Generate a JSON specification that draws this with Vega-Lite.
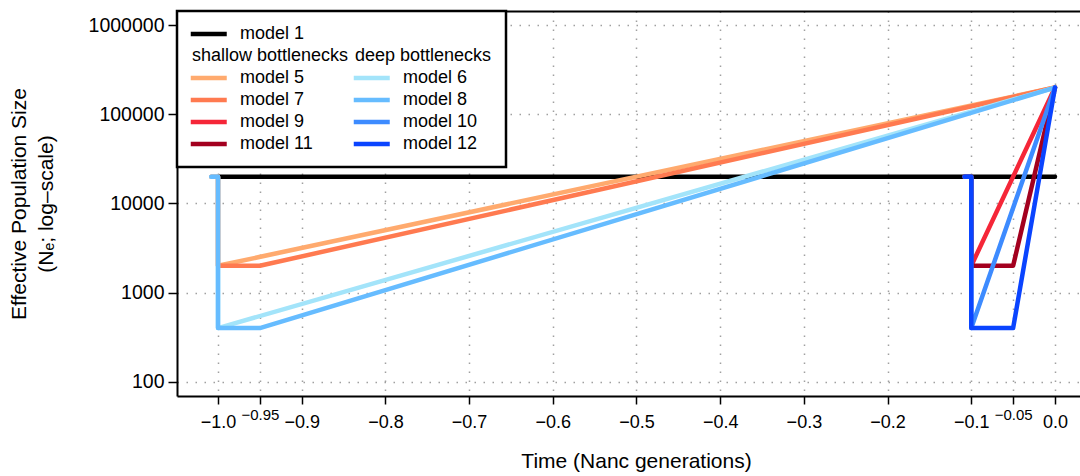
{
  "$schema": "https://vega.github.io/schema/vega-lite/v6.json",
  "width": 903,
  "height": 385,
  "autosize": {"type": "none"},
  "padding": {"left": 177, "top": 11, "right": 0, "bottom": 80},
  "config": {
    "view": {"stroke": null},
    "font": "Liberation Sans",
    "background": "white"
  },
  "data": {
    "values": [
      {"model": "model 1", "i": 1, "t": -1.0, "ne": 20000},
      {"model": "model 1", "i": 2, "t": 0.0, "ne": 20000},

      {"model": "model 5", "i": 1, "t": -1.008, "ne": 20000},
      {"model": "model 5", "i": 2, "t": -1.0, "ne": 20000},
      {"model": "model 5", "i": 3, "t": -1.0, "ne": 2000},
      {"model": "model 5", "i": 4, "t": 0.0, "ne": 200000},

      {"model": "model 7", "i": 1, "t": -1.008, "ne": 20000},
      {"model": "model 7", "i": 2, "t": -1.0, "ne": 20000},
      {"model": "model 7", "i": 3, "t": -1.0, "ne": 2000},
      {"model": "model 7", "i": 4, "t": -0.95, "ne": 2000},
      {"model": "model 7", "i": 5, "t": 0.0, "ne": 200000},

      {"model": "model 9", "i": 1, "t": -0.108, "ne": 20000},
      {"model": "model 9", "i": 2, "t": -0.1, "ne": 20000},
      {"model": "model 9", "i": 3, "t": -0.1, "ne": 2000},
      {"model": "model 9", "i": 4, "t": 0.0, "ne": 200000},

      {"model": "model 11", "i": 1, "t": -0.108, "ne": 20000},
      {"model": "model 11", "i": 2, "t": -0.1, "ne": 20000},
      {"model": "model 11", "i": 3, "t": -0.1, "ne": 2000},
      {"model": "model 11", "i": 4, "t": -0.05, "ne": 2000},
      {"model": "model 11", "i": 5, "t": 0.0, "ne": 200000},

      {"model": "model 6", "i": 1, "t": -1.008, "ne": 20000},
      {"model": "model 6", "i": 2, "t": -1.0, "ne": 20000},
      {"model": "model 6", "i": 3, "t": -1.0, "ne": 400},
      {"model": "model 6", "i": 4, "t": 0.0, "ne": 200000},

      {"model": "model 8", "i": 1, "t": -1.008, "ne": 20000},
      {"model": "model 8", "i": 2, "t": -1.0, "ne": 20000},
      {"model": "model 8", "i": 3, "t": -1.0, "ne": 400},
      {"model": "model 8", "i": 4, "t": -0.95, "ne": 400},
      {"model": "model 8", "i": 5, "t": 0.0, "ne": 200000},

      {"model": "model 10", "i": 1, "t": -0.108, "ne": 20000},
      {"model": "model 10", "i": 2, "t": -0.1, "ne": 20000},
      {"model": "model 10", "i": 3, "t": -0.1, "ne": 400},
      {"model": "model 10", "i": 4, "t": 0.0, "ne": 200000},

      {"model": "model 12", "i": 1, "t": -0.108, "ne": 20000},
      {"model": "model 12", "i": 2, "t": -0.1, "ne": 20000},
      {"model": "model 12", "i": 3, "t": -0.1, "ne": 400},
      {"model": "model 12", "i": 4, "t": -0.05, "ne": 400},
      {"model": "model 12", "i": 5, "t": 0.0, "ne": 200000}
    ]
  },
  "layer": [
    {
      "mark": {"type": "line", "strokeWidth": 4.5, "strokeCap": "round", "strokeJoin": "round"},
      "encoding": {
        "x": {
          "field": "t",
          "type": "quantitative",
          "scale": {"domain": [-1.049, 0.0299], "nice": false, "zero": false},
          "axis": {
            "orient": "bottom",
            "values": [-1.0, -0.95, -0.9, -0.8, -0.7, -0.6, -0.5, -0.4, -0.3, -0.2, -0.1, -0.05, 0.0],
            "labelExpr": "abs(datum.value + 0.95) < 0.001 || abs(datum.value + 0.05) < 0.001 ? format(datum.value, '.2f') : format(datum.value, '.1f')",
            "labelFontSize": {"condition": {"test": "abs(datum.value + 0.95) < 0.001 || abs(datum.value + 0.05) < 0.001", "value": 15}, "value": 18},
            "labelPadding": {"condition": {"test": "abs(datum.value + 0.95) < 0.001 || abs(datum.value + 0.05) < 0.001", "value": 3}, "value": 9},
            "labelOverlap": false,
            "labelFlush": false,
            "labelColor": "black",
            "tickSize": 8,
            "tickWidth": 1.5,
            "tickColor": "black",
            "domainColor": "black",
            "domainWidth": 2,
            "grid": true,
            "gridDash": [1.5, 7.5],
            "gridColor": "#a0a0a0",
            "gridWidth": 1.5,
            "title": "Time (Nanc generations)",
            "titleFontSize": 21,
            "titleFontWeight": "normal",
            "titleColor": "black",
            "titlePadding": 19,
            "titleX": 459
          }
        },
        "y": {
          "field": "ne",
          "type": "quantitative",
          "scale": {"type": "log", "domain": [69.183, 1445440], "nice": false},
          "axis": {
            "values": [100, 1000, 10000, 100000, 1000000],
            "labelExpr": "format(datum.value, 'd')",
            "labelFontSize": 19.5,
            "labelColor": "black",
            "labelPadding": 4,
            "tickSize": 9,
            "tickWidth": 1.5,
            "tickColor": "black",
            "domainColor": "black",
            "domainWidth": 2,
            "grid": true,
            "gridDash": [1.5, 7.5],
            "gridColor": "#a0a0a0",
            "gridWidth": 1.5,
            "title": ["Effective Population Size", "(Nₑ; log–scale)"],
            "titleFontSize": 21,
            "titleFontWeight": "normal",
            "titleColor": "black",
            "titleLineHeight": 27,
            "titlePadding": 32
          }
        },
        "color": {
          "field": "model",
          "type": "nominal",
          "scale": {
            "domain": ["model 1", "shallow bottlenecks", "model 5", "model 7", "model 9", "model 11", " ", "deep bottlenecks", "model 6", "model 8", "model 10", "model 12"],
            "range": ["black", "transparent", "#FFAA6E", "#FF7A50", "#F52638", "#A3001F", "transparent", "transparent", "#A3E4FA", "#66BCFF", "#3D8BFF", "#0A44FF"]
          },
          "legend": {
            "title": null,
            "orient": "top-left",
            "offset": 0,
            "columns": 2,
            "columnPadding": -5,
            "rowPadding": 4,
            "padding": 14,
            "fillColor": "white",
            "strokeColor": "black",
            "symbolType": "M-1.85,0H5.35",
            "symbolSize": 100,
            "symbolStrokeWidth": 4.5,
            "labelFontSize": 18,
            "labelOffset": 31,
            "labelColor": "black",
            "labelLimit": 300,
            "encode": {
              "legend": {"update": {"strokeWidth": {"value": 2.5}}},
              "labels": {"update": {"dx": {"signal": "datum.value == 'shallow bottlenecks' || datum.value == 'deep bottlenecks' ? -48 : 0"}}}
            }
          }
        },
        "order": {"field": "i", "type": "quantitative"}
      }
    },
    {
      "mark": {"type": "line", "opacity": 0},
      "encoding": {
        "x": {
          "field": "t",
          "type": "quantitative",
          "axis": {"orient": "top", "labels": false, "ticks": false, "grid": false, "title": null, "domainColor": "black", "domainWidth": 2}
        },
        "y": {"field": "ne", "type": "quantitative"}
      }
    }
  ],
  "resolve": {"axis": {"x": "independent"}}
}
